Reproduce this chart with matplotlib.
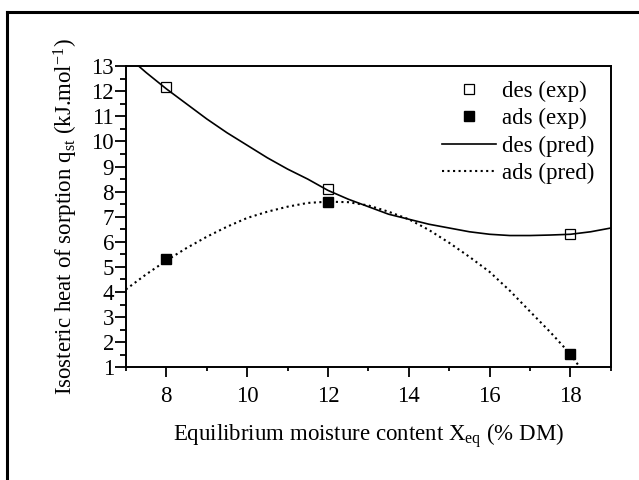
import matplotlib
matplotlib.use("Agg")
import matplotlib.pyplot as plt
from matplotlib.lines import Line2D
from matplotlib.ticker import MultipleLocator

plt.rcParams['font.family'] = ['Liberation Serif', 'DejaVu Serif']
plt.rcParams['mathtext.fontset'] = 'custom'
plt.rcParams['mathtext.rm'] = 'Liberation Serif'
plt.rcParams['mathtext.it'] = 'Liberation Serif:italic'

# experimental points
x_exp = [8, 12, 18]
des_exp = [12.16, 8.1, 6.3]
ads_exp = [5.32, 7.6, 1.52]

# predicted curves
x_des_pred = [7, 7.5, 8, 8.5, 9, 9.5, 10, 10.5, 11, 11.5, 12, 12.5, 13, 13.5, 14,
              14.5, 15, 15.5, 16, 16.5, 17, 17.5, 18, 18.5, 19]
des_pred = [13.45, 12.75, 12.1, 11.5, 10.9, 10.35, 9.85, 9.35, 8.9, 8.5, 8.05, 7.7,
            7.4, 7.1, 6.9, 6.7, 6.55, 6.4, 6.3, 6.25, 6.25, 6.27, 6.3, 6.4, 6.55]

x_ads_pred = [7, 7.5, 8, 8.5, 9, 9.5, 10, 10.5, 11, 11.5, 12, 12.5, 13, 13.5, 14,
              14.5, 15, 15.5, 16, 16.5, 17, 17.5, 18, 18.23]
ads_pred = [4.1, 4.7, 5.25, 5.75, 6.2, 6.6, 6.95, 7.2, 7.4, 7.55, 7.6, 7.58, 7.45,
            7.2, 6.9, 6.47, 5.96, 5.4, 4.8, 4.05, 3.22, 2.4, 1.52, 1.0]

fs = 16.5

fig = plt.figure(figsize=(6.39, 4.80), dpi=100)
ax = fig.add_axes([0.197, 0.235, 0.759, 0.627])

ax.plot(x_exp, des_exp, 's', mfc='white', mec='black', mew=0.9, ms=6.5, label='des (exp)')
ax.plot(x_exp, ads_exp, 's', mfc='black', mec='black', ms=6.5, label='ads (exp)')
ax.plot(x_des_pred, des_pred, '-', color='black', lw=1.2, label='des (pred)')
ax.plot(x_ads_pred, ads_pred, ':', color='black', lw=1.5, label='ads (pred)')

ax.set_xlim(7, 19)
ax.set_ylim(1, 13)
ax.xaxis.set_major_locator(MultipleLocator(2))
ax.xaxis.set_minor_locator(MultipleLocator(1))
ax.yaxis.set_major_locator(MultipleLocator(1))
ax.yaxis.set_minor_locator(MultipleLocator(0.5))
ax.tick_params(which='both', direction='out', width=1.3, labelsize=fs)
ax.tick_params(axis='x', which='major', length=7, pad=6.5)
ax.tick_params(axis='x', which='minor', length=3)
ax.tick_params(axis='y', which='major', length=8, pad=0.5)
ax.tick_params(axis='y', which='minor', length=4)
for s in ax.spines.values():
    s.set_linewidth(1.4)

ax.set_xlabel('Equilibrium moisture content X$_{\\mathrm{eq}}$ (% DM)', fontsize=fs, labelpad=10)
ax.set_ylabel('Isosteric heat of sorption q$_{\\mathrm{st}}$ (kJ.mol$^{\\mathrm{-1}}$)', fontsize=fs, labelpad=8)

ax.legend(loc='upper right', bbox_to_anchor=(0.9755, 0.967), frameon=False, fontsize=fs,
          handlelength=2.35, handletextpad=0.25, labelspacing=0.27,
          borderaxespad=0, borderpad=0.2)

# outer frame (top and left edges are inside the picture)
fig.add_artist(Line2D([7 / 639, 7 / 639], [0, 1 - 12 / 480], transform=fig.transFigure,
                      color='black', lw=2.2))
fig.add_artist(Line2D([7 / 639, 1], [1 - 12 / 480, 1 - 12 / 480], transform=fig.transFigure,
                      color='black', lw=2.2))

fig.savefig('out.png', dpi=100)
